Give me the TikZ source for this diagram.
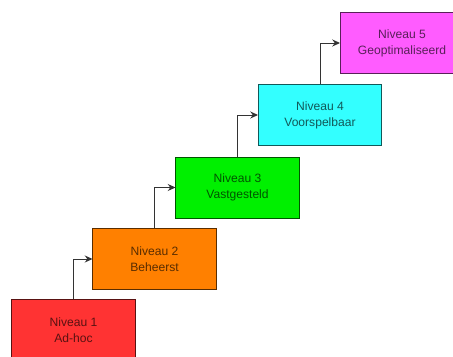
\documentclass[tikz,border=0pt]{standalone}
\usepackage{fontspec}
\setmainfont{Liberation Sans}
\usepackage{tikz}
\usetikzlibrary{arrows.meta,positioning}
\definecolor{lvlred}{HTML}{FF3333}
\definecolor{lvlorange}{HTML}{FF8000}
\definecolor{lvlgreen}{HTML}{00F000}
\definecolor{lvlcyan}{HTML}{33FFFF}
\definecolor{lvlmagenta}{HTML}{FF5CFF}
\tikzset{
  lvlnode/.style={
    rectangle, draw=#1!35!black, fill=#1, text=#1!35!black,
    minimum width=3.075cm, minimum height=1.525cm,
    align=center, font=\fontsize{8.6}{11.2}\selectfont, inner sep=2pt,
    line width=0.7pt
  },
  lvlarrow/.style={-{Stealth[length=5.5pt,width=5pt]}, line width=0.7pt, draw=black!80},
}
\begin{document}
\begin{tikzpicture}[x=0.025cm, y=0.025cm]
  \useasboundingbox (0,0) rectangle (453,356);
  \clip (0,0) rectangle (453,356);
  \node (n1) [lvlnode=lvlred]     at (73.5,26)   {Niveau 1\\Ad-hoc};
  \node (n2) [lvlnode=lvlorange]  at (154.5,97)  {Niveau 2\\Beheerst};
  \node (n3) [lvlnode=lvlgreen]   at (237.5,168.5) {Niveau 3\\Vastgesteld};
  \node (n4) [lvlnode=lvlcyan]    at (320,241)   {Niveau 4\\Voorspelbaar};
  \node (n5) [lvlnode=lvlmagenta] at (402,313)   {Niveau 5\\Geoptimaliseerd};
  \draw[lvlarrow] (n1.north) |- (n2.west);
  \draw[lvlarrow] (n2.north) |- (n3.west);
  \draw[lvlarrow] (n3.north) |- (n4.west);
  \draw[lvlarrow] (n4.north) |- (n5.west);
\end{tikzpicture}
\end{document}
